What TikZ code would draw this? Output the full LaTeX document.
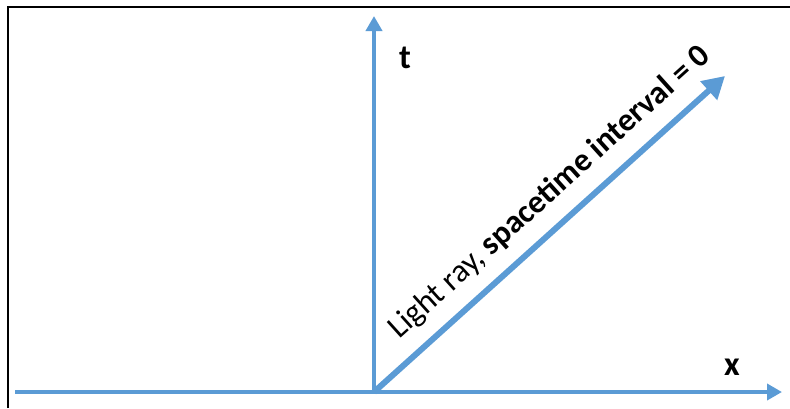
\documentclass[tikz,border=0pt]{standalone}
\usepackage{fontspec}
\setmainfont{Carlito}
\usetikzlibrary{arrows.meta, calc}
\definecolor{axisblue}{RGB}{91, 155, 213}

\begin{document}
\begin{tikzpicture}[
    x=1pt, y=-1pt,
    axis/.style={draw=axisblue, line width=4pt, -{Triangle[length=15pt, width=16pt]}},
    ray/.style={draw=axisblue, line width=6pt, -{Triangle[length=22pt, width=24pt]}},
    lbl/.style={font=\fontsize{34}{40}\selectfont\bfseries, inner sep=0pt}
]
\useasboundingbox (0,0) rectangle (790,408);

% Frame (left and top edges only)
\draw[line width=2pt] (8,408) -- (8,7) -- (790,7);

% Coordinates
\coordinate (origin) at (374,392);
\coordinate (xstart) at (15,392);
\coordinate (xend) at (782,392);
\coordinate (tend) at (374,16);
\coordinate (rayend) at (725,76);

% Axes
\draw[axis] (xstart) -- (xend);
\draw[axis] (origin) -- (tend);

% Light ray
\draw[ray] (origin) -- (rayend);
\path (origin) -- (rayend) node[pos=0.113, sloped, anchor=base west, yshift=22pt, inner sep=0pt,
    font=\fontsize{32.5}{38}\selectfont] (raylbl) {Light ray, \textbf{spacetime interval = 0}};

% Axis labels
\node[lbl] (tlbl) at (405,58) {t};
\node[lbl] (xlbl) at (732,367) {x};

\end{tikzpicture}
\end{document}
